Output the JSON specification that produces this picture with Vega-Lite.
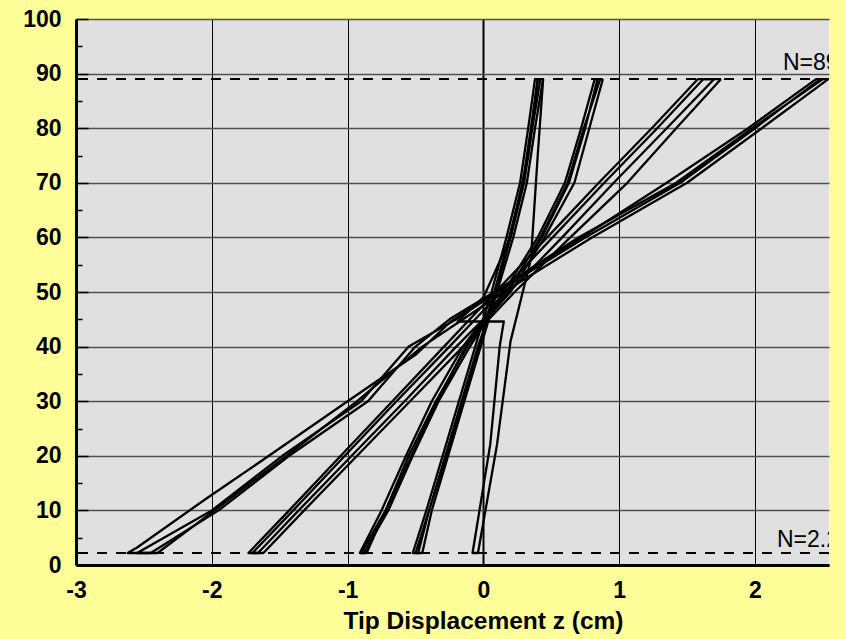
{
  "$schema": "https://vega.github.io/schema/vega-lite/v6.json",
  "autosize": "none",
  "width": 753,
  "height": 546,
  "padding": {"left": 76, "top": 19, "right": 17, "bottom": 74},
  "background": "#FFFF99",
  "config": {
    "view": {"fill": "#E0E0E0", "stroke": null},
    "font": "Liberation Sans"
  },
  "datasets": {
    "loops": [
      {"g": "A1", "o": 1, "x": 2.54, "y": 89}, {"g": "A1", "o": 2, "x": 2.05, "y": 80}, {"g": "A1", "o": 3, "x": 1.5, "y": 70}, {"g": "A1", "o": 4, "x": 0.8, "y": 60}, {"g": "A1", "o": 5, "x": 0.15, "y": 50}, {"g": "A1", "o": 6, "x": -0.15, "y": 45}, {"g": "A1", "o": 7, "x": -0.45, "y": 40}, {"g": "A1", "o": 8, "x": -0.93, "y": 30}, {"g": "A1", "o": 9, "x": -1.45, "y": 20}, {"g": "A1", "o": 10, "x": -1.98, "y": 10}, {"g": "A1", "o": 11, "x": -2.4, "y": 2.2}, {"g": "A1", "o": 12, "x": -2.62, "y": 2.2}, {"g": "A1", "o": 13, "x": -2.55, "y": 3.2}, {"g": "A1", "o": 14, "x": -2.05, "y": 12}, {"g": "A1", "o": 15, "x": -1.55, "y": 20.5}, {"g": "A1", "o": 16, "x": -1.0, "y": 30}, {"g": "A1", "o": 17, "x": -0.5, "y": 38.5}, {"g": "A1", "o": 18, "x": -0.24, "y": 44.6}, {"g": "A1", "o": 19, "x": -0.02, "y": 48.2}, {"g": "A1", "o": 20, "x": 0.6, "y": 58}, {"g": "A1", "o": 21, "x": 1.35, "y": 70}, {"g": "A1", "o": 22, "x": 1.95, "y": 80}, {"g": "A1", "o": 23, "x": 2.45, "y": 89}, {"g": "A1", "o": 24, "x": 2.54, "y": 89},
      {"g": "A2", "o": 1, "x": 2.5, "y": 89}, {"g": "A2", "o": 2, "x": 1.98, "y": 80}, {"g": "A2", "o": 3, "x": 1.42, "y": 70}, {"g": "A2", "o": 4, "x": 0.7, "y": 60}, {"g": "A2", "o": 5, "x": 0.08, "y": 50}, {"g": "A2", "o": 6, "x": -0.25, "y": 45}, {"g": "A2", "o": 7, "x": -0.5, "y": 40}, {"g": "A2", "o": 8, "x": -0.85, "y": 30}, {"g": "A2", "o": 9, "x": -1.43, "y": 20}, {"g": "A2", "o": 10, "x": -1.95, "y": 10}, {"g": "A2", "o": 11, "x": -2.45, "y": 2.2}, {"g": "A2", "o": 12, "x": -2.55, "y": 2.2}, {"g": "A2", "o": 13, "x": -2.0, "y": 10}, {"g": "A2", "o": 14, "x": -1.48, "y": 20}, {"g": "A2", "o": 15, "x": -0.9, "y": 30}, {"g": "A2", "o": 16, "x": -0.55, "y": 40}, {"g": "A2", "o": 17, "x": -0.2, "y": 45}, {"g": "A2", "o": 18, "x": 0.1, "y": 50}, {"g": "A2", "o": 19, "x": 0.75, "y": 60}, {"g": "A2", "o": 20, "x": 1.45, "y": 70}, {"g": "A2", "o": 21, "x": 2.0, "y": 80}, {"g": "A2", "o": 22, "x": 2.48, "y": 89}, {"g": "A2", "o": 23, "x": 2.5, "y": 89},
      {"g": "B1", "o": 1, "x": 1.75, "y": 89}, {"g": "B1", "o": 2, "x": 1.42, "y": 80}, {"g": "B1", "o": 3, "x": 1.06, "y": 70}, {"g": "B1", "o": 4, "x": 0.64, "y": 60}, {"g": "B1", "o": 5, "x": 0.23, "y": 50}, {"g": "B1", "o": 6, "x": 0.04, "y": 45}, {"g": "B1", "o": 7, "x": -0.15, "y": 40}, {"g": "B1", "o": 8, "x": -0.54, "y": 30}, {"g": "B1", "o": 9, "x": -0.93, "y": 20}, {"g": "B1", "o": 10, "x": -1.32, "y": 10}, {"g": "B1", "o": 11, "x": -1.62, "y": 2.2}, {"g": "B1", "o": 12, "x": -1.73, "y": 2.2}, {"g": "B1", "o": 13, "x": -1.43, "y": 10}, {"g": "B1", "o": 14, "x": -1.05, "y": 20}, {"g": "B1", "o": 15, "x": -0.67, "y": 30}, {"g": "B1", "o": 16, "x": -0.29, "y": 40}, {"g": "B1", "o": 17, "x": -0.1, "y": 45}, {"g": "B1", "o": 18, "x": 0.09, "y": 50}, {"g": "B1", "o": 19, "x": 0.47, "y": 60}, {"g": "B1", "o": 20, "x": 0.85, "y": 70}, {"g": "B1", "o": 21, "x": 1.24, "y": 80}, {"g": "B1", "o": 22, "x": 1.58, "y": 89}, {"g": "B1", "o": 23, "x": 1.75, "y": 89},
      {"g": "B2", "o": 1, "x": 1.7, "y": 89}, {"g": "B2", "o": 2, "x": 1.35, "y": 80}, {"g": "B2", "o": 3, "x": 0.96, "y": 70}, {"g": "B2", "o": 4, "x": 0.58, "y": 60}, {"g": "B2", "o": 5, "x": 0.19, "y": 50}, {"g": "B2", "o": 6, "x": 0.0, "y": 45}, {"g": "B2", "o": 7, "x": -0.2, "y": 40}, {"g": "B2", "o": 8, "x": -0.58, "y": 30}, {"g": "B2", "o": 9, "x": -0.97, "y": 20}, {"g": "B2", "o": 10, "x": -1.36, "y": 10}, {"g": "B2", "o": 11, "x": -1.66, "y": 2.2}, {"g": "B2", "o": 12, "x": -1.7, "y": 2.2}, {"g": "B2", "o": 13, "x": -1.4, "y": 10}, {"g": "B2", "o": 14, "x": -1.02, "y": 20}, {"g": "B2", "o": 15, "x": -0.64, "y": 30}, {"g": "B2", "o": 16, "x": -0.25, "y": 40}, {"g": "B2", "o": 17, "x": -0.06, "y": 45}, {"g": "B2", "o": 18, "x": 0.13, "y": 50}, {"g": "B2", "o": 19, "x": 0.51, "y": 60}, {"g": "B2", "o": 20, "x": 0.89, "y": 70}, {"g": "B2", "o": 21, "x": 1.28, "y": 80}, {"g": "B2", "o": 22, "x": 1.62, "y": 89}, {"g": "B2", "o": 23, "x": 1.7, "y": 89},
      {"g": "C1", "o": 1, "x": 0.88, "y": 89}, {"g": "C1", "o": 2, "x": 0.78, "y": 80}, {"g": "C1", "o": 3, "x": 0.67, "y": 70}, {"g": "C1", "o": 4, "x": 0.45, "y": 60}, {"g": "C1", "o": 5, "x": 0.2, "y": 50}, {"g": "C1", "o": 6, "x": 0.02, "y": 45}, {"g": "C1", "o": 7, "x": -0.12, "y": 40}, {"g": "C1", "o": 8, "x": -0.35, "y": 30}, {"g": "C1", "o": 9, "x": -0.55, "y": 20}, {"g": "C1", "o": 10, "x": -0.72, "y": 10}, {"g": "C1", "o": 11, "x": -0.86, "y": 2.2}, {"g": "C1", "o": 12, "x": -0.91, "y": 2.2}, {"g": "C1", "o": 13, "x": -0.75, "y": 10}, {"g": "C1", "o": 14, "x": -0.57, "y": 20}, {"g": "C1", "o": 15, "x": -0.38, "y": 30}, {"g": "C1", "o": 16, "x": -0.15, "y": 40}, {"g": "C1", "o": 17, "x": 0.0, "y": 45}, {"g": "C1", "o": 18, "x": 0.15, "y": 50}, {"g": "C1", "o": 19, "x": 0.4, "y": 60}, {"g": "C1", "o": 20, "x": 0.6, "y": 70}, {"g": "C1", "o": 21, "x": 0.72, "y": 80}, {"g": "C1", "o": 22, "x": 0.82, "y": 89}, {"g": "C1", "o": 23, "x": 0.88, "y": 89},
      {"g": "C2", "o": 1, "x": 0.86, "y": 89}, {"g": "C2", "o": 2, "x": 0.74, "y": 80}, {"g": "C2", "o": 3, "x": 0.62, "y": 70}, {"g": "C2", "o": 4, "x": 0.42, "y": 60}, {"g": "C2", "o": 5, "x": 0.18, "y": 50}, {"g": "C2", "o": 6, "x": 0.03, "y": 45}, {"g": "C2", "o": 7, "x": -0.1, "y": 40}, {"g": "C2", "o": 8, "x": -0.33, "y": 30}, {"g": "C2", "o": 9, "x": -0.52, "y": 20}, {"g": "C2", "o": 10, "x": -0.7, "y": 10}, {"g": "C2", "o": 11, "x": -0.88, "y": 2.2}, {"g": "C2", "o": 12, "x": -0.9, "y": 2.2}, {"g": "C2", "o": 13, "x": -0.72, "y": 10}, {"g": "C2", "o": 14, "x": -0.53, "y": 20}, {"g": "C2", "o": 15, "x": -0.34, "y": 30}, {"g": "C2", "o": 16, "x": -0.13, "y": 40}, {"g": "C2", "o": 17, "x": 0.01, "y": 45}, {"g": "C2", "o": 18, "x": 0.17, "y": 50}, {"g": "C2", "o": 19, "x": 0.43, "y": 60}, {"g": "C2", "o": 20, "x": 0.63, "y": 70}, {"g": "C2", "o": 21, "x": 0.75, "y": 80}, {"g": "C2", "o": 22, "x": 0.84, "y": 89}, {"g": "C2", "o": 23, "x": 0.86, "y": 89},
      {"g": "D1", "o": 1, "x": 0.44, "y": 89}, {"g": "D1", "o": 2, "x": 0.38, "y": 80}, {"g": "D1", "o": 3, "x": 0.32, "y": 70}, {"g": "D1", "o": 4, "x": 0.22, "y": 60}, {"g": "D1", "o": 5, "x": 0.1, "y": 50}, {"g": "D1", "o": 6, "x": 0.04, "y": 45}, {"g": "D1", "o": 7, "x": -0.02, "y": 40}, {"g": "D1", "o": 8, "x": -0.14, "y": 30}, {"g": "D1", "o": 9, "x": -0.26, "y": 20}, {"g": "D1", "o": 10, "x": -0.38, "y": 10}, {"g": "D1", "o": 11, "x": -0.45, "y": 2.2}, {"g": "D1", "o": 12, "x": -0.52, "y": 2.2}, {"g": "D1", "o": 13, "x": -0.42, "y": 10}, {"g": "D1", "o": 14, "x": -0.3, "y": 20}, {"g": "D1", "o": 15, "x": -0.18, "y": 30}, {"g": "D1", "o": 16, "x": -0.06, "y": 40}, {"g": "D1", "o": 17, "x": 0.0, "y": 45}, {"g": "D1", "o": 18, "x": 0.06, "y": 50}, {"g": "D1", "o": 19, "x": 0.17, "y": 60}, {"g": "D1", "o": 20, "x": 0.27, "y": 70}, {"g": "D1", "o": 21, "x": 0.33, "y": 80}, {"g": "D1", "o": 22, "x": 0.38, "y": 89}, {"g": "D1", "o": 23, "x": 0.44, "y": 89},
      {"g": "D2", "o": 1, "x": 0.42, "y": 89}, {"g": "D2", "o": 2, "x": 0.36, "y": 80}, {"g": "D2", "o": 3, "x": 0.3, "y": 70}, {"g": "D2", "o": 4, "x": 0.2, "y": 60}, {"g": "D2", "o": 5, "x": 0.09, "y": 50}, {"g": "D2", "o": 6, "x": 0.03, "y": 45}, {"g": "D2", "o": 7, "x": -0.04, "y": 40}, {"g": "D2", "o": 8, "x": -0.16, "y": 30}, {"g": "D2", "o": 9, "x": -0.28, "y": 20}, {"g": "D2", "o": 10, "x": -0.4, "y": 10}, {"g": "D2", "o": 11, "x": -0.48, "y": 2.2}, {"g": "D2", "o": 12, "x": -0.5, "y": 2.2}, {"g": "D2", "o": 13, "x": -0.4, "y": 10}, {"g": "D2", "o": 14, "x": -0.27, "y": 20}, {"g": "D2", "o": 15, "x": -0.15, "y": 30}, {"g": "D2", "o": 16, "x": -0.03, "y": 40}, {"g": "D2", "o": 17, "x": 0.02, "y": 45}, {"g": "D2", "o": 18, "x": 0.08, "y": 50}, {"g": "D2", "o": 19, "x": 0.19, "y": 60}, {"g": "D2", "o": 20, "x": 0.29, "y": 70}, {"g": "D2", "o": 21, "x": 0.35, "y": 80}, {"g": "D2", "o": 22, "x": 0.4, "y": 89}, {"g": "D2", "o": 23, "x": 0.42, "y": 89},
      {"g": "E1", "o": 1, "x": 0.44, "y": 89}, {"g": "E1", "o": 2, "x": 0.4, "y": 75}, {"g": "E1", "o": 3, "x": 0.35, "y": 56}, {"g": "E1", "o": 4, "x": 0.26, "y": 47}, {"g": "E1", "o": 5, "x": 0.2, "y": 41}, {"g": "E1", "o": 6, "x": 0.1, "y": 22}, {"g": "E1", "o": 7, "x": -0.04, "y": 2.2}, {"g": "E1", "o": 8, "x": -0.08, "y": 2.2}, {"g": "E1", "o": 9, "x": 0.05, "y": 22}, {"g": "E1", "o": 10, "x": 0.12, "y": 40}, {"g": "E1", "o": 11, "x": 0.15, "y": 44.6}, {"g": "E1", "o": 12, "x": -0.19, "y": 44.6}, {"g": "E1", "o": 13, "x": 0.0, "y": 49}, {"g": "E1", "o": 14, "x": 0.2, "y": 60}, {"g": "E1", "o": 15, "x": 0.33, "y": 75}, {"g": "E1", "o": 16, "x": 0.4, "y": 89}
    ],
    "refs": [{"y": 89}, {"y": 2.2}],
    "labels": [{"x": 2.206, "y": 90.7, "t": "N=89"}, {"x": 2.162, "y": 3.3, "t": "N=2.2"}]
  },
  "encoding": {
    "x": {
      "field": "x", "type": "quantitative",
      "scale": {"domain": [-3, 2.545], "nice": false, "zero": false},
      "axis": {
        "values": [-3, -2, -1, 0, 1, 2],
        "labelExpr": "datum.value + ''",
        "title": "Tip Displacement z (cm)",
        "titleFont": "Liberation Sans", "titleFontSize": 24.5, "titleFontWeight": "bold", "titleColor": "black",
        "titleAnchor": "start", "titleAlign": "center", "titleX": 407, "titleY": 63, "titleBaseline": "alphabetic",
        "labelFont": "Liberation Sans", "labelFontSize": 23, "labelFontWeight": "bold", "labelColor": "black",
        "labelPadding": 14, "labelFlush": false,
        "ticks": false,
        "grid": true, "gridColor": "black",
        "gridWidth": {"condition": {"test": "datum.value === 0", "value": 2}, "value": 1},
        "domain": true, "domainColor": "black", "domainWidth": 3
      }
    },
    "y": {
      "field": "y", "type": "quantitative",
      "scale": {"domain": [0, 100], "nice": false},
      "axis": {
        "values": [0, 5, 10, 15, 20, 25, 30, 35, 40, 45, 50, 55, 60, 65, 70, 75, 80, 85, 90, 95, 100],
        "labelExpr": "datum.value % 10 === 0 ? datum.value + '' : ''",
        "title": null,
        "labelFont": "Liberation Sans", "labelFontSize": 23, "labelFontWeight": "bold", "labelColor": "black",
        "labelPadding": 27, "labelFlush": false,
        "ticks": true, "tickColor": "black", "tickWidth": 1.5,
        "tickSize": {"condition": {"test": "datum.value % 10 === 0", "value": -12}, "value": -6},
        "grid": true, "gridColor": "#505050", "gridWidth": 1.5,
        "gridOpacity": {"condition": {"test": "datum.value % 10 === 0", "value": 1}, "value": 0},
        "domain": true, "domainColor": "black", "domainWidth": 3
      }
    }
  },
  "layer": [
    {
      "data": {"name": "refs"},
      "mark": {"type": "rule", "stroke": "black", "strokeWidth": 2, "strokeDash": [10, 9]},
      "encoding": {"x": null, "y": {"field": "y", "type": "quantitative"}}
    },
    {
      "data": {"name": "loops"},
      "mark": {"type": "line", "stroke": "black", "strokeWidth": 2.3, "clip": true, "strokeJoin": "round"},
      "encoding": {
        "detail": {"field": "g", "type": "nominal"},
        "order": {"field": "o", "type": "quantitative"}
      }
    },
    {
      "data": {"name": "labels"},
      "mark": {"type": "text", "font": "Liberation Sans", "fontSize": 23, "align": "left", "baseline": "alphabetic", "color": "black", "clip": true},
      "encoding": {"text": {"field": "t"}}
    }
  ]
}
